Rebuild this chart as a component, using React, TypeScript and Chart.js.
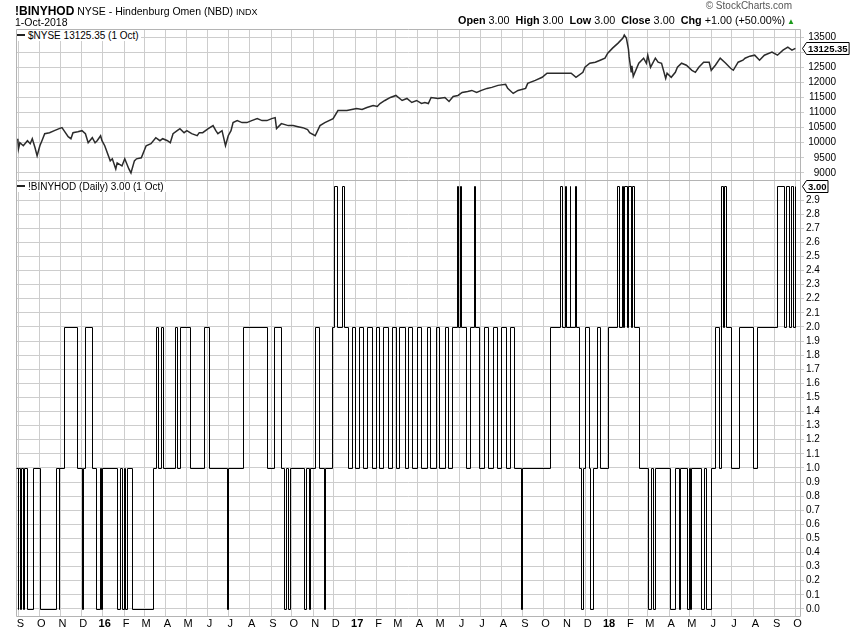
import { useEffect, useRef } from 'react';
import { Chart, registerables } from 'chart.js';

Chart.register(...registerables);

const FONT = "'Liberation Sans', Arial, Helvetica, sans-serif";
const GRID = '#cdcdcd';

const monthTickDates = [
  '2015-09-01', '2015-10-01', '2015-11-01', '2015-12-01',
  '2016-01-01', '2016-02-01', '2016-03-01', '2016-04-01', '2016-05-01', '2016-06-01',
  '2016-07-01', '2016-08-01', '2016-09-01', '2016-10-01', '2016-11-01', '2016-12-01',
  '2017-01-01', '2017-02-01', '2017-03-01', '2017-04-01', '2017-05-01', '2017-06-01',
  '2017-07-01', '2017-08-01', '2017-09-01', '2017-10-01', '2017-11-01', '2017-12-01',
  '2018-01-01', '2018-02-01', '2018-03-01', '2018-04-01', '2018-05-01', '2018-06-01',
  '2018-07-01', '2018-08-01', '2018-09-01', '2018-10-01',
];
const monthTickLabels = [
  'S', 'O', 'N', 'D',
  '16', 'F', 'M', 'A', 'M', 'J', 'J', 'A', 'S', 'O', 'N', 'D',
  '17', 'F', 'M', 'A', 'M', 'J', 'J', 'A', 'S', 'O', 'N', 'D',
  '18', 'F', 'M', 'A', 'M', 'J', 'J', 'A', 'S', 'O',
];

const nyseTicks = [9000, 9500, 10000, 10500, 11000, 11500, 12000, 12500, 13000, 13500];
const omenTicks = [
  0.0, 0.1, 0.2, 0.3, 0.4, 0.5, 0.6, 0.7, 0.8, 0.9,
  1.0, 1.1, 1.2, 1.3, 1.4, 1.5, 1.6, 1.7, 1.8, 1.9,
  2.0, 2.1, 2.2, 2.3, 2.4, 2.5, 2.6, 2.7, 2.8, 2.9,
];

const nyseDates = [
  '2015-08-31', '2015-09-01', '2015-09-03', '2015-09-08', '2015-09-14', '2015-09-18', '2015-09-21',
  '2015-09-25', '2015-09-28', '2015-10-02', '2015-10-05', '2015-10-09', '2015-10-16', '2015-10-23',
  '2015-10-30', '2015-11-03', '2015-11-06', '2015-11-12', '2015-11-16', '2015-11-19', '2015-11-26',
  '2015-12-02', '2015-12-07', '2015-12-11', '2015-12-17', '2015-12-21', '2015-12-24', '2015-12-29',
  '2015-12-31', '2016-01-04', '2016-01-12', '2016-01-15', '2016-01-20', '2016-01-22', '2016-01-29',
  '2016-02-02', '2016-02-08', '2016-02-11', '2016-02-16', '2016-02-19', '2016-02-26', '2016-03-04',
  '2016-03-11', '2016-03-18', '2016-03-24', '2016-03-28', '2016-04-04', '2016-04-08', '2016-04-12',
  '2016-04-18', '2016-04-22', '2016-04-28', '2016-05-02', '2016-05-09', '2016-05-17', '2016-05-20',
  '2016-05-25', '2016-06-02', '2016-06-09', '2016-06-13', '2016-06-16', '2016-06-22', '2016-06-27',
  '2016-07-01', '2016-07-05', '2016-07-08', '2016-07-14', '2016-07-21', '2016-07-28', '2016-08-04',
  '2016-08-12', '2016-08-19', '2016-08-26', '2016-09-02', '2016-09-07', '2016-09-09', '2016-09-16',
  '2016-09-26', '2016-10-03', '2016-10-10', '2016-10-17', '2016-10-24', '2016-10-27', '2016-11-04',
  '2016-11-11', '2016-11-18', '2016-11-30', '2016-12-07', '2016-12-14', '2016-12-20', '2016-12-27',
  '2017-01-03', '2017-01-11', '2017-01-18', '2017-01-27', '2017-02-02', '2017-02-06', '2017-02-13',
  '2017-02-21', '2017-03-01', '2017-03-10', '2017-03-17', '2017-03-24', '2017-03-31', '2017-04-07',
  '2017-04-12', '2017-04-17', '2017-04-21', '2017-05-01', '2017-05-11', '2017-05-17', '2017-05-23',
  '2017-05-30', '2017-06-05', '2017-06-13', '2017-06-19', '2017-06-26', '2017-07-03', '2017-07-11',
  '2017-07-18', '2017-07-27', '2017-08-07', '2017-08-10', '2017-08-18', '2017-08-25', '2017-09-05',
  '2017-09-08', '2017-09-19', '2017-09-29', '2017-10-06', '2017-10-20', '2017-11-01', '2017-11-10',
  '2017-11-17', '2017-11-27', '2017-11-30', '2017-12-07', '2017-12-15', '2017-12-22', '2017-12-29',
  '2018-01-02', '2018-01-09', '2018-01-17', '2018-01-24', '2018-01-26', '2018-01-29', '2018-02-01',
  '2018-02-02', '2018-02-05', '2018-02-06', '2018-02-08', '2018-02-16', '2018-02-23', '2018-02-27',
  '2018-03-01', '2018-03-05', '2018-03-12', '2018-03-16', '2018-03-21', '2018-03-27', '2018-03-29',
  '2018-04-04', '2018-04-10', '2018-04-13', '2018-04-19', '2018-04-26', '2018-05-04', '2018-05-09',
  '2018-05-14', '2018-05-21', '2018-05-29', '2018-06-01', '2018-06-07', '2018-06-14', '2018-06-22',
  '2018-06-29', '2018-07-03', '2018-07-10', '2018-07-17', '2018-07-20', '2018-07-27', '2018-08-03',
  '2018-08-10', '2018-08-17', '2018-08-28', '2018-09-05', '2018-09-13', '2018-09-20', '2018-09-26',
  '2018-10-01',
];
const nyseValues = [
  10133, 9800, 10000, 9900, 10067, 9967, 10133,
  9833, 9567, 9900, 10067, 10300, 10333, 10400,
  10467, 10500, 10400, 10200, 10133, 10333, 10367,
  10400, 10300, 10000, 10167, 10000, 10067, 10233,
  10067, 9900, 9400, 9467, 9133, 9333, 9233,
  9467, 9133, 9000, 9400, 9467, 9500, 9900,
  9967, 10167, 10067, 10133, 10067, 10000, 10300,
  10400, 10467, 10333, 10400, 10300, 10233, 10333,
  10333, 10467, 10567, 10400, 10300, 10400, 9900,
  10233, 10400, 10667, 10733, 10667, 10667, 10733,
  10800, 10733, 10733, 10800, 10833, 10467, 10633,
  10567, 10567, 10533, 10500, 10433, 10333, 10233,
  10567, 10667, 10800, 11067, 11067, 11067, 11100,
  11133, 11100, 11167, 11233, 11200, 11300, 11400,
  11500, 11567, 11400, 11467, 11333, 11400, 11300,
  11333, 11300, 11500, 11467, 11500, 11367, 11533,
  11567, 11667, 11700, 11733, 11667, 11733, 11800,
  11833, 11900, 11933, 11800, 11633, 11733, 11800,
  11967, 12067, 12167, 12300, 12300, 12300, 12300,
  12167, 12333, 12500, 12633, 12667, 12733, 12800,
  12967, 13133, 13300, 13467, 13567, 13467, 13100,
  12850, 12350, 12550, 12200, 12633, 12800, 12633,
  12900, 12500, 12800, 12667, 12633, 12133, 12300,
  12167, 12333, 12500, 12633, 12567, 12400, 12333,
  12500, 12667, 12667, 12400, 12567, 12800, 12633,
  12467, 12400, 12667, 12733, 12800, 12867, 12900,
  12733, 12900, 13000, 12900, 13067, 13167, 13067,
  13125.35,
];

const omenDates = [
  '2015-08-28', '2015-08-31', '2015-09-01', '2015-09-03', '2015-09-04', '2015-09-08', '2015-09-09',
  '2015-09-14', '2015-09-22', '2015-10-02', '2015-10-26', '2015-10-29', '2015-10-30', '2015-11-06',
  '2015-11-25', '2015-12-02', '2015-12-03', '2015-12-07', '2015-12-16', '2015-12-23', '2015-12-28',
  '2015-12-29', '2015-12-31', '2016-01-22', '2016-01-26', '2016-01-29', '2016-02-01', '2016-02-03',
  '2016-02-05', '2016-02-12', '2016-03-14', '2016-03-18', '2016-03-21', '2016-03-25', '2016-03-28',
  '2016-04-15', '2016-04-18', '2016-04-22', '2016-05-06', '2016-05-27', '2016-06-03', '2016-06-29',
  '2016-07-01', '2016-07-22', '2016-08-26', '2016-09-06', '2016-09-16', '2016-09-20', '2016-09-23',
  '2016-09-26', '2016-09-29', '2016-10-19', '2016-10-21', '2016-10-26', '2016-10-28', '2016-11-04',
  '2016-11-10', '2016-11-17', '2016-11-18', '2016-11-29', '2016-12-02', '2016-12-05', '2016-12-13',
  '2016-12-16', '2016-12-21', '2016-12-27', '2016-12-31', '2017-01-07', '2017-01-13', '2017-01-18',
  '2017-01-25', '2017-01-31', '2017-02-04', '2017-02-11', '2017-02-17', '2017-02-23', '2017-03-01',
  '2017-03-06', '2017-03-14', '2017-03-19', '2017-03-25', '2017-04-01', '2017-04-07', '2017-04-15',
  '2017-04-20', '2017-04-28', '2017-05-03', '2017-05-11', '2017-05-16', '2017-05-22', '2017-05-28',
  '2017-05-30', '2017-06-02', '2017-06-03', '2017-06-10', '2017-06-16', '2017-06-22', '2017-06-23',
  '2017-06-29', '2017-07-06', '2017-07-12', '2017-07-19', '2017-07-25', '2017-08-01', '2017-08-08',
  '2017-08-14', '2017-08-19', '2017-08-30', '2017-08-31', '2017-10-10', '2017-10-25', '2017-10-27',
  '2017-11-01', '2017-11-03', '2017-11-08', '2017-11-09', '2017-11-15', '2017-11-17', '2017-11-22',
  '2017-11-24', '2017-11-27', '2017-11-30', '2017-12-06', '2017-12-08', '2017-12-11', '2017-12-18',
  '2017-12-22', '2018-01-02', '2018-01-15', '2018-01-18', '2018-01-22', '2018-01-24', '2018-01-26',
  '2018-01-30', '2018-02-01', '2018-02-05', '2018-02-06', '2018-02-09', '2018-02-16', '2018-03-02',
  '2018-03-06', '2018-03-08', '2018-03-12', '2018-04-02', '2018-04-09', '2018-04-16', '2018-04-17',
  '2018-04-27', '2018-04-30', '2018-05-01', '2018-05-02', '2018-05-17', '2018-05-21', '2018-05-25',
  '2018-05-31', '2018-06-06', '2018-06-12', '2018-06-15', '2018-06-18', '2018-06-20', '2018-06-22',
  '2018-06-29', '2018-07-11', '2018-07-31', '2018-08-06', '2018-09-04', '2018-09-14', '2018-09-18',
  '2018-09-21', '2018-09-24', '2018-09-27', '2018-10-01',
];
const omenValues = [
  1, 0, 1, 0, 1, 0, 1,
  0, 1, 0, 1, 0, 1, 2,
  1, 0, 1, 2, 1, 0, 1,
  0, 1, 0, 1, 0, 1, 0,
  1, 0, 1, 2, 1, 2, 1,
  2, 1, 2, 1, 2, 1, 0,
  1, 2, 1, 2, 1, 0, 1,
  0, 1, 0, 1, 0, 1, 2,
  1, 0, 1, 2, 3, 2, 3,
  2, 1, 2, 1, 2, 1, 2,
  1, 2, 1, 2, 1, 2, 1,
  2, 1, 2, 1, 2, 1, 2,
  1, 2, 1, 2, 1, 2, 3,
  2, 3, 2, 1, 2, 3, 2,
  1, 2, 1, 2, 1, 2, 1,
  2, 1, 0, 1, 2, 3, 2,
  3, 2, 3, 2, 3, 2, 1,
  0, 1, 2, 1, 0, 1, 2,
  1, 2, 3, 2, 3, 2, 3,
  2, 3, 2, 3, 2, 1, 0,
  1, 0, 1, 0, 1, 0, 1,
  0, 1, 0, 1, 0, 1, 0,
  1, 2, 1, 3, 2, 3, 2,
  1, 2, 1, 2, 3, 2, 3,
  2, 3, 2, 3,
];

const NYSE_LAST = 13125.35;
const OMEN_LAST = 3.0;

const dayNum = (s: string) => {
  const [y, m, d] = s.split('-').map(Number);
  return Date.UTC(y, m - 1, d) / 86400000;
};
const X_MIN = dayNum('2015-09-01') - 3.6;
const X_MAX = dayNum('2018-10-01') + 8.1;

function drawTag(chart: any, value: number, text: string) {
  const { ctx } = chart;
  const y = Math.round(chart.scales.y.getPixelForValue(value)) + 0.5;
  const ax = Math.round(chart.chartArea.right) + 1.5;
  ctx.save();
  ctx.font = `bold 9.5px ${FONT}`;
  const w = ctx.measureText(text).width;
  const h = 12;
  const bx = ax + 4;
  ctx.beginPath();
  ctx.moveTo(ax, y);
  ctx.lineTo(bx, y - h / 2);
  ctx.lineTo(bx + w + 3, y - h / 2);
  ctx.lineTo(bx + w + 3, y + h / 2);
  ctx.lineTo(bx, y + h / 2);
  ctx.closePath();
  ctx.fillStyle = '#fff';
  ctx.fill();
  ctx.strokeStyle = '#000';
  ctx.lineWidth = 1;
  ctx.stroke();
  ctx.fillStyle = '#000';
  ctx.textBaseline = 'middle';
  ctx.textAlign = 'left';
  ctx.fillText(text, bx + 1.5, y + 0.5);
  ctx.restore();
}

function framePlugin(top: boolean) {
  return {
    id: 'frame',
    beforeDatasetsDraw(chart: any) {
      const { ctx, chartArea: a } = chart;
      ctx.save();
      ctx.strokeStyle = '#b4b4b4';
      ctx.lineWidth = 1;
      ctx.beginPath();
      const l = Math.round(a.left) + 0.5;
      const r = Math.round(a.right) - 0.5;
      const t = Math.round(a.top) + 0.5;
      const b = Math.round(a.bottom) - 0.5;
      if (top) {
        ctx.moveTo(l, b); ctx.lineTo(l, t); ctx.lineTo(r, t); ctx.lineTo(r, b); ctx.lineTo(l, b);
      } else {
        ctx.moveTo(l, t - 1); ctx.lineTo(l, b + 1); ctx.lineTo(r, b + 1); ctx.lineTo(r, t - 1);
      }
      ctx.stroke();
      ctx.restore();
    },
  };
}

// snap the step line's vertices to the pixel grid so its verticals are crisp
const snapPlugin = {
  id: 'snap',
  afterDatasetsUpdate(chart: any) {
    chart.getDatasetMeta(0).data.forEach((p: any) => {
      p.x = Math.round(p.x) + 0.5;
      p.y = Math.round(p.y) + 0.5;
    });
  },
};

function xAxis(showLabels: boolean) {
  return {
    type: 'linear',
    min: X_MIN,
    max: X_MAX,
    afterBuildTicks: (s: any) => {
      s.ticks = monthTickDates.map((d) => ({ value: dayNum(d) }));
    },
    grid: { color: GRID, drawTicks: false, lineWidth: 1 },
    border: { display: false },
    ticks: {
      display: showLabels,
      autoSkip: false,
      maxRotation: 0,
      padding: 1,
      labelOffset: 2,
      color: '#000',
      font: (c: any) => ({
        family: FONT,
        size: 11,
        weight: /^\d/.test(monthTickLabels[c.index] ?? '') ? 'bold' : 'normal',
      }),
      callback: (_v: any, i: number) => monthTickLabels[i],
    },
    afterFit: (s: any) => {
      s.height = showLabels ? 17 : 0;
      s.paddingLeft = 0;
      s.paddingRight = 0;
    },
  };
}

function yAxis(
  min: number,
  max: number,
  ticks: number[],
  fmt: (v: number) => string,
  width: number,
  align: string,
) {
  return {
    type: 'linear',
    position: 'right',
    min,
    max,
    afterBuildTicks: (s: any) => {
      s.ticks = ticks.map((v) => ({ value: v }));
    },
    grid: { color: GRID, tickLength: 3, drawTicks: true },
    border: { display: false },
    ticks: {
      color: '#000',
      font: { family: FONT, size: 10 },
      padding: 2,
      crossAlign: align,
      callback: (v: any) => fmt(Number(v)),
    },
    afterFit: (s: any) => {
      s.width = width;
      s.paddingTop = 0;
      s.paddingBottom = 0;
    },
  };
}

export default function App() {
  const topRef = useRef<HTMLCanvasElement>(null);
  const botRef = useRef<HTMLCanvasElement>(null);

  useEffect(() => {
    const top = new Chart(topRef.current as HTMLCanvasElement, {
      type: 'line',
      data: {
        datasets: [
          {
            data: nyseDates.map((d, i) => ({ x: dayNum(d), y: nyseValues[i] })),
            borderColor: '#2b2b2b',
            borderWidth: 1.5,
            pointRadius: 0,
            tension: 0,
            fill: false,
          },
        ],
      },
      options: {
        responsive: false,
        devicePixelRatio: 1,
        animation: false,
        layout: { padding: { left: 16, top: 29, right: 14, bottom: 0 } },
        plugins: { legend: { display: false }, tooltip: { enabled: false } },
        scales: {
          x: xAxis(false) as any,
          y: yAxis(8733, 13767, nyseTicks, (v) => String(v), 35, 'far') as any,
        },
      },
      plugins: [
        framePlugin(true),
        { id: 'tag', afterDraw: (c: any) => drawTag(c, NYSE_LAST, NYSE_LAST.toFixed(2)) },
      ],
    });

    const bot = new Chart(botRef.current as HTMLCanvasElement, {
      type: 'line',
      data: {
        datasets: [
          {
            data: omenDates.map((d, i) => ({ x: dayNum(d), y: omenValues[i] })),
            borderColor: '#000',
            borderWidth: 1,
            pointRadius: 0,
            stepped: true,
            fill: false,
          },
        ],
      },
      options: {
        responsive: false,
        devicePixelRatio: 1,
        animation: false,
        layout: { padding: { left: 16, top: 21, right: 0, bottom: 0 } },
        plugins: { legend: { display: false }, tooltip: { enabled: false } },
        scales: {
          x: xAxis(true) as any,
          y: yAxis(-0.05, 3.035, omenTicks, (v) => v.toFixed(1), 49, 'near') as any,
        },
      },
      plugins: [
        framePlugin(false),
        snapPlugin,
        { id: 'tag', afterDraw: (c: any) => drawTag(c, OMEN_LAST, OMEN_LAST.toFixed(2)) },
      ],
    });

    return () => {
      top.destroy();
      bot.destroy();
    };
  }, []);

  const dash = (
    <span
      style={{
        display: 'inline-block',
        width: 8,
        height: 2,
        background: '#222',
        verticalAlign: 'middle',
        marginRight: 3,
        marginTop: -2,
      }}
    />
  );

  return (
    <div
      style={{
        position: 'absolute',
        left: 0,
        top: 0,
        width: 850,
        height: 633,
        background: '#fff',
        overflow: 'hidden',
        fontFamily: FONT,
        color: '#000',
      }}
    >
      <canvas ref={topRef} width={850} height={181} style={{ position: 'absolute', left: 0, top: 0 }} />
      <canvas ref={botRef} width={850} height={473} style={{ position: 'absolute', left: 0, top: 160 }} />

      <div style={{ position: 'absolute', left: 15, top: 3, whiteSpace: 'nowrap', lineHeight: '14px' }}>
        <span style={{ fontWeight: 'bold', fontSize: 12 }}>!BINYHOD</span>
        <span style={{ fontSize: 10.5 }}> NYSE - Hindenburg Omen (NBD) </span>
        <span style={{ fontSize: 9 }}>INDX</span>
      </div>
      <div style={{ position: 'absolute', left: 15, top: 15, fontSize: 10.5, lineHeight: '14px' }}>1-Oct-2018</div>
      <div style={{ position: 'absolute', right: 58, top: 0, fontSize: 10, lineHeight: '12px', color: '#555' }}>
        © StockCharts.com
      </div>
      <div style={{ position: 'absolute', right: 55, top: 13, fontSize: 10.8, lineHeight: '14px', whiteSpace: 'nowrap' }}>
        <b>Open</b> 3.00&nbsp; <b>High</b> 3.00&nbsp; <b>Low</b> 3.00&nbsp; <b>Close</b> 3.00&nbsp; <b>Chg</b> +1.00 (+50.00%)
        <span style={{ color: '#1a9a1a', fontSize: 8, marginLeft: 2 }}>▲</span>
      </div>

      <div
        style={{
          position: 'absolute',
          left: 17,
          top: 30,
          height: 11,
          lineHeight: '11px',
          fontSize: 10,
          background: '#fff',
          paddingRight: 2,
          whiteSpace: 'nowrap',
        }}
      >
        {dash}$NYSE 13125.35 (1 Oct)
      </div>
      <div
        style={{
          position: 'absolute',
          left: 17,
          top: 182,
          height: 10,
          lineHeight: '10px',
          fontSize: 10,
          background: '#fff',
          paddingRight: 2,
          whiteSpace: 'nowrap',
        }}
      >
        {dash}!BINYHOD (Daily) 3.00 (1 Oct)
      </div>
    </div>
  );
}
